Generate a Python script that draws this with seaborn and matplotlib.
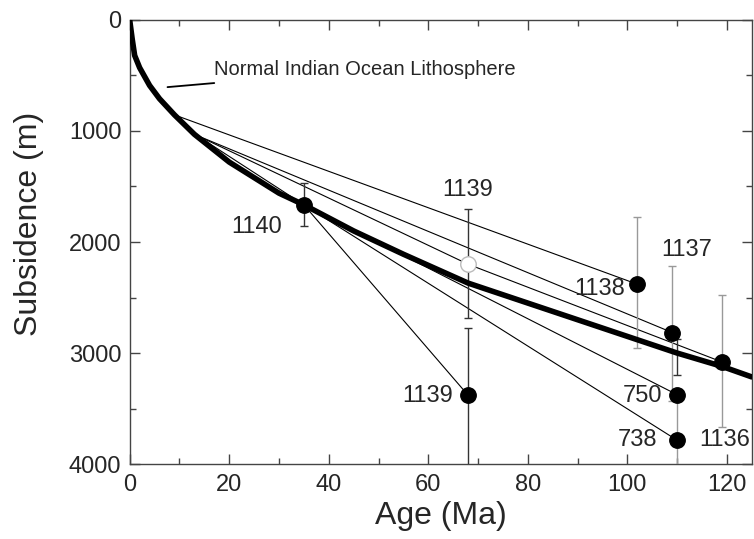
import matplotlib
matplotlib.use("Agg")
import pandas as pd
import seaborn as sns
import matplotlib.pyplot as plt
from matplotlib.ticker import MultipleLocator


# reference subsidence curve (normal Indian Ocean lithosphere)
curve_age = [0, 0.5, 1, 2, 4, 6, 9, 13, 20, 30, 35, 45, 55, 68, 80, 90, 100, 110, 119, 125]
curve_depth = [0, 170, 320, 430, 590, 710, 855, 1030, 1280, 1560, 1665, 1900, 2110,
               2370, 2550, 2700, 2850, 3000, 3120, 3215]

# drill sites
site_key = ["1140", "1139a", "1139b", "1138", "1137", "750", "738", "1136"]
site_label = ["1140", "1139", "1139", "1138", "1137", "750", "738", "1136"]
site_age = [35, 68, 68, 102, 109, 110, 110, 119]
site_depth = [1665, 2200, 3380, 2380, 2815, 3375, 3785, 3080]
site_open = [False, True, False, False, False, False, False, False]

# depth uncertainty ranges (top, bottom)
err_top = [1470, 1700, 2770, 1775, 2220, 2870, 3400, 2480]
err_bottom = [1860, 2680, 4050, 2955, 3430, 3195, 4050, 3665]
err_dark = [True, True, True, False, False, True, False, False]

# points where tie lines leave the reference curve
tie_key = ["A", "B"]
tie_age = [9, 13.5]
tie_depth = [855, 1040]

links = [("A", "1138"), ("B", "1137"), ("B", "1139a"), ("1139a", "1136"),
         ("B", "1140"), ("1140", "1139b"), ("1140", "750"), ("1140", "738")]

sites = pd.DataFrame({"key": site_key, "label": site_label, "age": site_age,
                      "depth": site_depth, "open": site_open,
                      "top": err_top, "bottom": err_bottom, "dark": err_dark})

nodes = {k: (a, d) for k, a, d in zip(tie_key, tie_age, tie_depth)}
nodes.update({k: (a, d) for k, a, d in zip(site_key, site_age, site_depth)})

sns.set_theme(style="ticks")
plt.rcParams["font.family"] = ["Liberation Sans", "DejaVu Sans"]

fig = plt.figure(figsize=(7.54, 5.39), dpi=100)
ax = fig.add_axes([0.172, 0.139, 0.825, 0.824])

# tie lines
for a, b in links:
    ax.plot([nodes[a][0], nodes[b][0]], [nodes[a][1], nodes[b][1]],
            color="black", lw=0.8, zorder=2)

# error bars
for _, r in sites.iterrows():
    mid = (r["top"] + r["bottom"]) / 2
    half = (r["bottom"] - r["top"]) / 2
    ax.errorbar(r["age"], mid, yerr=half, fmt="none",
                ecolor="#333333" if r["dark"] else "#999999",
                elinewidth=1, capsize=3, capthick=1, zorder=3)

sns.lineplot(x=curve_age, y=curve_depth, color="black", lw=4, sort=False,
             estimator=None, ax=ax, zorder=4)

filled = sites[~sites["open"]]
hollow = sites[sites["open"]]
sns.scatterplot(data=filled, x="age", y="depth", s=125, color="black",
                edgecolor="black", ax=ax, zorder=5, legend=False)
sns.scatterplot(data=hollow, x="age", y="depth", s=125, color="white",
                edgecolor="#bbbbbb", linewidth=1, ax=ax, zorder=5, legend=False)

# site labels
label_place = {
    "1140": (30.6, 1865, "right"),
    "1139a": (68, 1530, "center"),
    "1139b": (65, 3385, "right"),
    "1138": (99.5, 2425, "right"),
    "1137": (112, 2070, "center"),
    "750": (107, 3390, "right"),
    "738": (106, 3785, "right"),
    "1136": (114.5, 3785, "left"),
}
for k, lab in zip(site_key, site_label):
    x, y, ha = label_place[k]
    ax.text(x, y, lab, ha=ha, va="center", fontsize=17)

ax.annotate("Normal Indian Ocean Lithosphere", xy=(7.6, 605), xytext=(17, 450),
            fontsize=14.5, va="center", ha="left",
            arrowprops=dict(arrowstyle="-", color="black", lw=1.3,
                            shrinkA=3, shrinkB=0))

ax.set_xlim(0, 125)
ax.set_ylim(4000, 0)
ax.xaxis.set_major_locator(MultipleLocator(20))
ax.xaxis.set_minor_locator(MultipleLocator(10))
ax.yaxis.set_major_locator(MultipleLocator(1000))
ax.yaxis.set_minor_locator(MultipleLocator(500))
ax.tick_params(which="both", direction="in", top=True, right=True,
               color="#444444", labelsize=17, width=1)
ax.tick_params(which="major", length=7)
ax.tick_params(which="minor", length=4)
ax.tick_params(axis="x", pad=7)
ax.tick_params(axis="y", pad=6)
for s in ax.spines.values():
    s.set_color("#444444")
    s.set_linewidth(1)

ax.set_xlabel("Age (Ma)", fontsize=23, labelpad=4)
ax.set_ylabel("Subsidence (m)", fontsize=23, labelpad=18)
ax.yaxis.label.set_y(0.54)

fig.savefig("out.png", dpi=100)
